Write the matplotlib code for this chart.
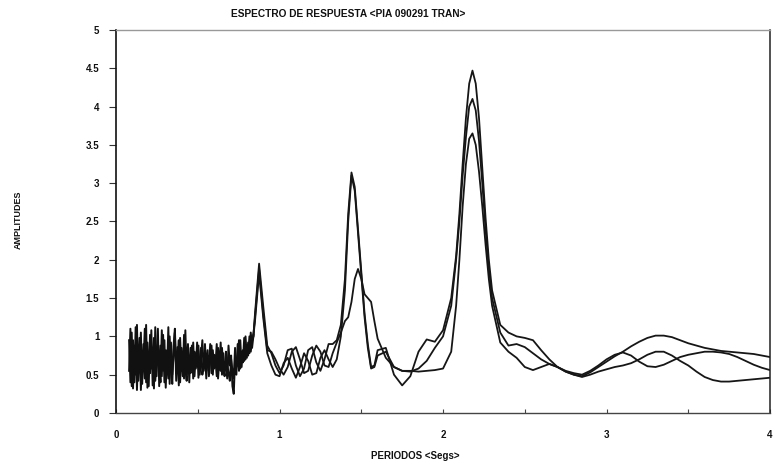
import numpy as np
import matplotlib
matplotlib.use('Agg')
import matplotlib.pyplot as plt

plt.rcParams['font.family'] = ['Liberation Sans', 'DejaVu Sans']

# noisy short-period part (two overlapping records)
noise_y1 = [0.55, 1.10, 0.35, 0.95, 0.40, 1.12, 0.30, 0.85, 0.60, 1.05, 0.38, 0.90,
            0.45, 1.15, 0.33, 0.78, 0.52, 1.08, 0.36, 0.98, 0.42, 0.70, 1.10, 0.35,
            0.88, 0.48, 1.02, 0.40, 0.82, 0.55, 1.12, 0.38, 0.92, 0.50, 0.75, 1.05,
            0.42, 0.86, 0.36, 0.98, 0.55, 0.80, 0.45, 1.08, 0.50, 0.90, 0.40,
            0.85, 0.55, 0.92, 0.48, 0.78, 0.60, 0.88, 0.50, 0.72, 0.95, 0.55, 0.80,
            0.45, 0.75, 0.62, 0.90, 0.52, 0.82, 0.58, 0.70, 0.48, 0.85, 0.60, 0.92,
            0.50, 0.78, 0.55, 0.68, 0.45, 0.88, 0.62, 0.75, 0.35,
            0.25, 0.70, 0.50, 0.90, 0.55, 0.95, 0.60, 0.82, 0.68, 1.00, 0.72, 0.92,
            0.78, 1.05, 0.85, 1.00]
noise_y2 = [0.95, 0.40, 1.05, 0.32, 0.88, 0.50, 1.15, 0.42, 0.98, 0.30, 0.80, 0.65,
            1.10, 0.40, 0.92, 0.35, 1.02, 0.58, 0.85, 0.32, 1.12, 0.48, 0.90, 0.62,
            0.40, 1.08, 0.55, 0.95, 0.33, 0.78, 0.45, 1.00, 0.60, 0.38, 0.88, 1.10,
            0.52, 0.70, 0.95, 0.40, 0.85, 0.48, 1.02, 0.58, 0.42, 0.80, 0.60,
            0.52, 0.88, 0.45, 0.80, 0.58, 0.92, 0.46, 0.70, 0.85, 0.50, 0.62, 0.90,
            0.55, 0.82, 0.48, 0.68, 0.88, 0.50, 0.76, 0.62, 0.90, 0.45, 0.70, 0.55,
            0.85, 0.60, 0.48, 0.80, 0.65, 0.52, 0.42, 0.70, 0.55,
            0.45, 0.85, 0.60, 0.72, 0.95, 0.58, 0.80, 0.66, 0.98, 0.70, 0.85, 0.75,
            1.00, 0.80, 0.95, 1.02]
noise_x = np.linspace(0.08, 0.84, len(noise_y1))

periodos = [0.85, 0.875, 0.9, 0.925, 0.95, 0.975, 1.0, 1.025, 1.05, 1.075, 1.1, 1.125,
            1.15, 1.175, 1.2, 1.225, 1.25, 1.275, 1.3, 1.325, 1.35, 1.375, 1.4,
            1.42, 1.44, 1.46, 1.48, 1.5, 1.52, 1.54, 1.56, 1.58, 1.6,
            1.65, 1.7, 1.75, 1.8, 1.85, 1.9, 1.95, 2.0, 2.05,
            2.08, 2.1, 2.12, 2.14, 2.16, 2.18, 2.2, 2.22, 2.24, 2.26, 2.28, 2.3,
            2.35, 2.4, 2.45, 2.5, 2.55, 2.6, 2.65, 2.7, 2.75, 2.8, 2.85, 2.9, 2.95,
            3.0, 3.05, 3.1, 3.15, 3.2, 3.25, 3.3, 3.35, 3.4, 3.45, 3.5, 3.55, 3.6,
            3.65, 3.7, 3.75, 3.8, 3.85, 3.9, 3.95, 4.0]

amp_a = [1.30, 1.95, 1.40, 0.88, 0.78, 0.62, 0.52, 0.62, 0.82, 0.84, 0.62, 0.48,
         0.58, 0.82, 0.86, 0.66, 0.55, 0.70, 0.90, 0.90, 0.95, 1.15, 1.75,
         2.60, 3.14, 2.95, 2.40, 1.85, 1.30, 0.90, 0.60, 0.62, 0.82,
         0.85, 0.50, 0.36, 0.48, 0.80, 0.96, 0.93, 1.08, 1.50,
         2.05, 2.60, 3.25, 3.85, 4.30, 4.47, 4.30, 3.85, 3.20, 2.55, 2.00, 1.60,
         1.15, 1.05, 1.00, 0.98, 0.95, 0.82, 0.70, 0.60, 0.54, 0.50, 0.48, 0.53, 0.60,
         0.67, 0.74, 0.80, 0.87, 0.93, 0.98, 1.01, 1.01, 0.99, 0.95, 0.91, 0.88, 0.85,
         0.83, 0.81, 0.80, 0.79, 0.78, 0.77, 0.75, 0.73]

amp_b = [1.25, 1.88, 1.30, 0.82, 0.80, 0.70, 0.58, 0.50, 0.60, 0.80, 0.86, 0.70,
         0.52, 0.55, 0.75, 0.88, 0.80, 0.62, 0.60, 0.78, 0.92, 1.05, 1.20,
         1.25, 1.45, 1.75, 1.88, 1.75, 1.55, 1.50, 1.45, 1.20, 0.97,
         0.72, 0.60, 0.55, 0.54, 0.58, 0.68, 0.85, 1.00, 1.40,
         2.00, 2.50, 3.10, 3.60, 4.00, 4.10, 3.95, 3.55, 3.00, 2.40, 1.90, 1.50,
         1.05, 0.88, 0.90, 0.86, 0.78, 0.70, 0.64, 0.60, 0.55, 0.52, 0.50, 0.55, 0.62,
         0.70, 0.76, 0.79, 0.75, 0.67, 0.61, 0.60, 0.63, 0.68, 0.73, 0.76, 0.78, 0.80,
         0.80, 0.79, 0.77, 0.73, 0.68, 0.63, 0.59, 0.56]

amp_c = [1.20, 1.82, 1.25, 0.78, 0.62, 0.50, 0.48, 0.65, 0.72, 0.58, 0.46, 0.60,
         0.78, 0.68, 0.50, 0.52, 0.72, 0.82, 0.70, 0.60, 0.70, 1.00, 1.60,
         2.50, 3.10, 2.90, 2.35, 1.80, 1.25, 0.85, 0.58, 0.60, 0.75,
         0.80, 0.60, 0.55, 0.55, 0.54, 0.55, 0.56, 0.58, 0.80,
         1.40, 2.00, 2.70, 3.25, 3.58, 3.65, 3.50, 3.15, 2.70, 2.20, 1.75, 1.40,
         0.92, 0.80, 0.72, 0.60, 0.56, 0.60, 0.64, 0.60, 0.54, 0.50, 0.47, 0.50, 0.54,
         0.57, 0.60, 0.62, 0.65, 0.70, 0.76, 0.80, 0.80, 0.75, 0.68, 0.62, 0.54, 0.47,
         0.43, 0.41, 0.41, 0.42, 0.43, 0.44, 0.45, 0.46]

fig = plt.figure(figsize=(7.74, 4.76), dpi=100)
ax = fig.add_axes([0.1499, 0.1324, 0.845, 0.8046])

ax.plot(noise_x, noise_y1, color='#111', lw=1.4)
ax.plot(noise_x, noise_y2, color='#111', lw=1.4)
starts = [noise_y1[-1], noise_y2[-1], noise_y1[-1]]
for amp, y0 in zip((amp_a, amp_b, amp_c), starts):
    ax.plot([noise_x[-1]] + periodos, [y0] + amp, color='#161616', lw=1.3)

ax.set_xlim(0, 4)
ax.set_ylim(0, 5)

xt = np.arange(0, 4.01, 0.5)
ax.set_xticks(xt)
ax.set_xticklabels(['0', '', '1', '', '2', '', '3', '', '4'], fontweight='bold', fontsize=7)
yt = np.arange(0, 5.01, 0.5)
ax.set_yticks(yt)
ax.set_yticklabels(['0', '0.5', '1', '1.5', '2', '2.5', '3', '3.5', '4', '4.5', '5'],
                   fontweight='bold', fontsize=7)
ax.tick_params(axis='x', direction='in', length=3, width=0.8, colors='#444', pad=12)
ax.tick_params(axis='y', direction='out', length=5, width=0.8, colors='#333', pad=7)
for lab in ax.get_xticklabels() + ax.get_yticklabels():
    lab.set_color('#111')

ax.spines['left'].set_color('#111')
ax.spines['left'].set_linewidth(1.2)
ax.spines['right'].set_color('#222')
ax.spines['right'].set_linewidth(1.1)
ax.spines['bottom'].set_color('#444')
ax.spines['bottom'].set_linewidth(1.0)
ax.spines['top'].set_color('#999')
ax.spines['top'].set_linewidth(1.0)

fig.text(0.45, 0.971, 'ESPECTRO DE RESPUESTA <PIA 090291 TRAN>', ha='center', va='center',
         fontsize=7.3, fontweight='bold', color='#111')
fig.text(0.537, 0.042, 'PERIODOS <Segs>', ha='center', va='center',
         fontsize=7, fontweight='bold', color='#111')
fig.text(0.024, 0.538, 'AMPLITUDES', ha='center', va='center', rotation=90,
         fontsize=6.5, fontweight='bold', color='#111')

fig.savefig('out.png', dpi=100, facecolor='white')
